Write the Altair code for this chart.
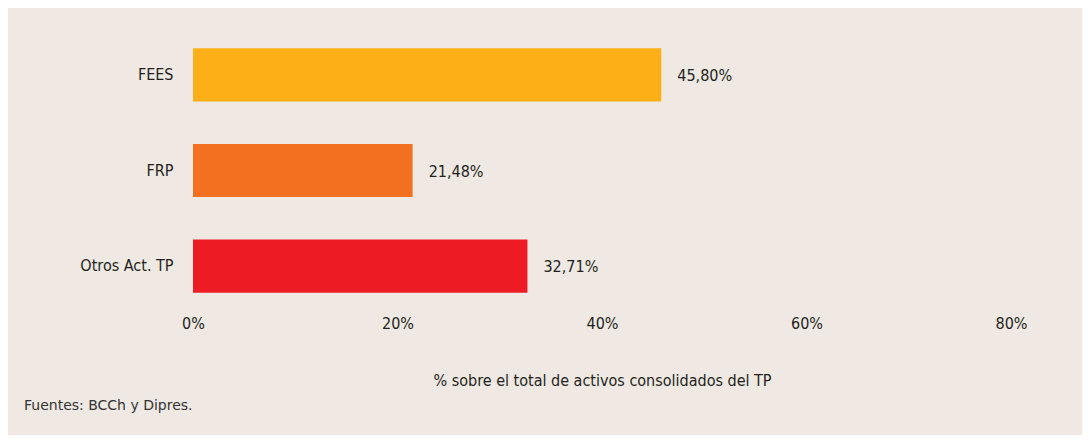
import altair as alt
import pandas as pd

categories = ["FEES", "FRP", "Otros Act. TP"]
values = [45.80, 21.48, 32.71]
colors = ["#FCAF17", "#F37021", "#ED1C24"]
x_ticks = [0, 20, 40, 60, 80]
x_title = "% sobre el total de activos consolidados del TP"
source_note = "Fuentes: BCCh y Dipres."

labels = [f"{v:.2f}".replace(".", ",") + "%" for v in values]
df = pd.DataFrame({"cat": categories, "val": values, "label": labels})

FONT = "Liberation Sans Narrow, DejaVu Sans Condensed, sans-serif"
TXT = "#231F20"
BG = "#F0E9E3"
FS = 16

y_enc = alt.Y(
    "cat:N",
    sort=categories,
    scale=alt.Scale(paddingInner=0.445, paddingOuter=0.2225),
    axis=alt.Axis(
        title=None, domain=False, ticks=False, labelPadding=20,
        labelFont=FONT, labelFontSize=FS, labelColor=TXT,
    ),
)
x_enc = alt.X(
    "val:Q",
    scale=alt.Scale(domain=[0, 80], nice=False),
    axis=alt.Axis(
        values=x_ticks, labelExpr="datum.value + '%'", grid=False, domain=False,
        ticks=False, labelPadding=1, labelFlush=False, labelFont=FONT,
        labelFontSize=FS, labelColor=TXT, title=x_title, titleFont=FONT,
        titleFontSize=FS, titleFontWeight="normal", titleColor=TXT, titlePadding=41,
    ),
)

bars = alt.Chart(df).mark_bar().encode(
    x=x_enc,
    y=y_enc,
    color=alt.Color("cat:N", scale=alt.Scale(domain=categories, range=colors), legend=None),
)
text = alt.Chart(df).mark_text(
    align="left", baseline="middle", dx=16, dy=1, font=FONT, fontSize=FS, color=TXT
).encode(
    x="val:Q",
    y=alt.Y("cat:N", sort=categories),
    text="label:N",
)

chart = (
    alt.layer(bars, text)
    .properties(
        width=818,
        height=287,
        background=BG,
        autosize=alt.AutoSizeParams(type="none"),
        padding={"left": 185, "top": 19, "right": 71, "bottom": 121},
        title=alt.TitleParams(
            text=source_note, orient="bottom", anchor="start", frame="group",
            dx=-169, offset=11, font="DejaVu Sans", fontSize=14,
            fontWeight="normal", color="#333333",
        ),
    )
    .configure_view(stroke=None)
)

chart.save("out.html", embed_options={"renderer": "svg", "actions": False})
